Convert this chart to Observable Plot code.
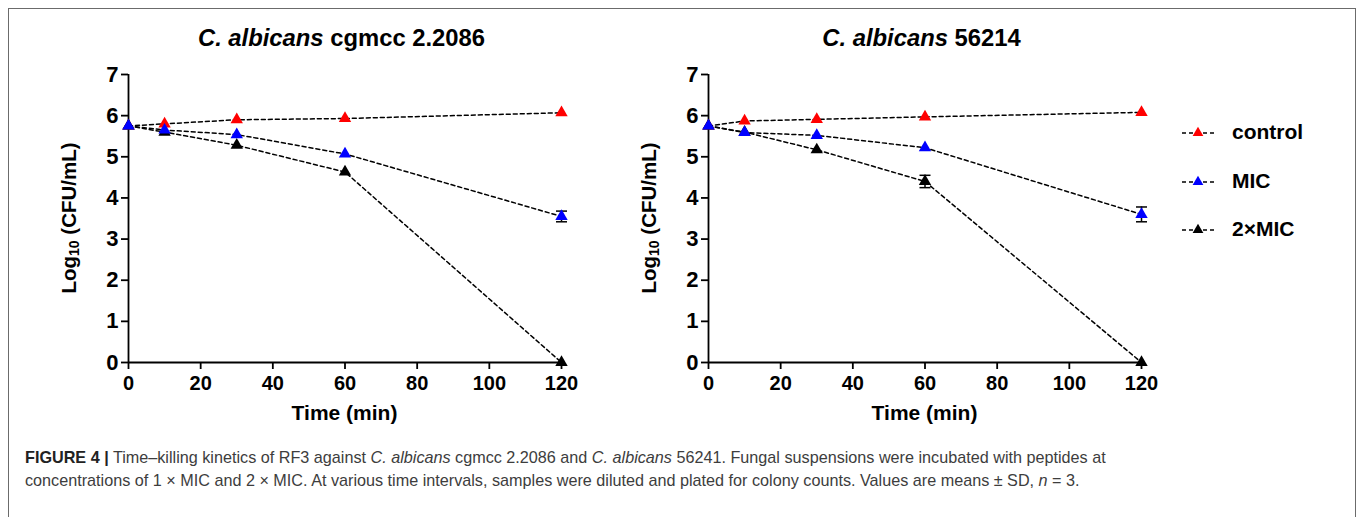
<!DOCTYPE html>
<html>
<head>
<meta charset="utf-8">
<script src="https://cdn.jsdelivr.net/npm/d3@7"></script>
<script src="https://cdn.jsdelivr.net/npm/@observablehq/plot@0.6"></script>
<style>
  html, body { margin: 0; padding: 0; background: #fff; }
  #root { position: relative; width: 1358px; height: 517px; overflow: hidden; font-family: "Liberation Sans", Arial, sans-serif; }
  #frame { position: absolute; left: 8px; top: 8px; width: 1348px; height: 540px; border: 1px solid #6b6b6b; box-sizing: border-box; }
  .panel { position: absolute; top: 0; }
  .title { position: absolute; font-weight: bold; font-size: 23.8px; white-space: nowrap; transform: translate(-50%, -50%); }
  .xlab { position: absolute; font-weight: bold; font-size: 21px; white-space: nowrap; transform: translate(-50%, -50%); }
  .ylab { position: absolute; font-weight: bold; font-size: 20.5px; white-space: nowrap; transform: translate(-50%, -50%) rotate(-90deg); }
  .ylab sub { font-size: 14px; vertical-align: -3px; }
  .legend { position: absolute; left: 1180px; top: 108px; z-index: 5; }
  .legrow { display: flex; align-items: center; height: 48.5px; font-weight: bold; font-size: 21px; }
  .legrow svg { margin-right: 16px; }
  .caption { position: absolute; left: 25px; top: 446px; font-size: 16.2px; color: #3d3d3d; line-height: 23px; white-space: nowrap; font-family: "Liberation Sans", Arial, sans-serif; }
  .caption b { color: #222; }
</style>
</head>
<body>
<div id="root">
  <div id="frame"></div>
</div>
<script>
// ---------------- data ----------------
const times = [0, 10, 30, 60, 120];
const seriesNames = ["control", "MIC", "2×MIC"];
const seriesColors = ["#ff0000", "#0000ff", "#000000"];
const xTicks = [0, 20, 40, 60, 80, 100, 120];
const yTicks = [0, 1, 2, 3, 4, 5, 6, 7];

// Panel A: C. albicans cgmcc 2.2086
const aControl = [5.75, 5.80, 5.90, 5.93, 6.07];
const aMIC     = [5.75, 5.65, 5.54, 5.07, 3.55];
const a2MIC    = [5.75, 5.60, 5.28, 4.63, 0.00];
const aControlSD = [0, 0, 0, 0, 0];
const aMICSD     = [0, 0, 0, 0, 0.13];
const a2MICSD    = [0, 0, 0, 0, 0];

// Panel B: C. albicans 56214
const bControl = [5.75, 5.87, 5.91, 5.97, 6.08];
const bMIC     = [5.75, 5.59, 5.52, 5.22, 3.60];
const b2MIC    = [5.75, 5.60, 5.17, 4.40, 0.00];
const bControlSD = [0, 0, 0, 0, 0];
const bMICSD     = [0, 0, 0, 0, 0.18];
const b2MICSD    = [0, 0, 0, 0.15, 0];

const panelTitles = ["cgmcc 2.2086", "56214"];

// --------------- build ----------------
function rows(ctrl, mic, mic2, sdc, sdm, sdm2) {
  const out = [];
  const vals = [ctrl, mic, mic2], sds = [sdc, sdm, sdm2];
  seriesNames.forEach((s, i) => times.forEach((t, j) => out.push({series: s, t, v: vals[i][j], sd: sds[i][j]})));
  return out;
}
const panels = [
  rows(aControl, aMIC, a2MIC, aControlSD, aMICSD, a2MICSD),
  rows(bControl, bMIC, b2MIC, bControlSD, bMICSD, b2MICSD)
];

const capSymbol = { draw(ctx) { ctx.moveTo(-5.5, 0); ctx.lineTo(5.5, 0); } };
const drawOrder = ["control", "2×MIC", "MIC"];
const font = "'Liberation Sans', Arial, sans-serif";

function makePlot(data) {
  const ordered = drawOrder.flatMap(s => data.filter(d => d.series === s));
  const err = data.filter(d => d.sd > 0);
  return Plot.plot({
    width: 640, height: 420,
    marginLeft: 128, marginRight: 79, marginTop: 74, marginBottom: 58,
    style: { fontFamily: font, fontSize: "21px", fontWeight: "bold", color: "#000", background: "transparent" },
    x: { domain: [xTicks[0], xTicks[xTicks.length - 1]] },
    y: { domain: [yTicks[0], yTicks[yTicks.length - 1]] },
    color: { domain: seriesNames, range: seriesColors },
    marks: [
      Plot.axisY({ ticks: yTicks, tickFormat: d => String(d), tickSize: 7, tickPadding: 3, strokeWidth: 1.8, fontSize: 22, fontWeight: "bold", label: null }),
      Plot.axisX({ ticks: xTicks, tickFormat: d => String(d), tickSize: 7, tickPadding: 6, strokeWidth: 1.8, fontSize: 20, fontWeight: "bold", label: null }),
      Plot.ruleX([xTicks[0]], { y1: yTicks[0], y2: yTicks[yTicks.length - 1], strokeWidth: 1.8 }),
      Plot.ruleY([yTicks[0]], { x1: xTicks[0], x2: xTicks[xTicks.length - 1], strokeWidth: 1.8 }),
      Plot.line(data, { x: "t", y: "v", z: "series", stroke: "#000", strokeWidth: 1.5, strokeDasharray: "4,3" }),
      Plot.ruleX(err, { x: "t", y1: d => d.v - d.sd, y2: d => d.v + d.sd, stroke: "#000", strokeWidth: 1.5 }),
      Plot.dot(err, { x: "t", y: d => d.v + d.sd, symbol: capSymbol, stroke: "#000", strokeWidth: 1.5, r: 5 }),
      Plot.dot(err, { x: "t", y: d => d.v - d.sd, symbol: capSymbol, stroke: "#000", strokeWidth: 1.5, r: 5 }),
      Plot.dot(ordered, { x: "t", y: "v", fill: "series", symbol: "triangle", r: 4.6, stroke: "none" })
    ]
  });
}

const root = document.getElementById("root");
const panelLeft = [0, 580];
panels.forEach((data, i) => {
  const wrap = document.createElement("div");
  wrap.className = "panel";
  wrap.style.left = panelLeft[i] + "px";
  wrap.appendChild(makePlot(data));
  root.appendChild(wrap);

  const cx = panelLeft[i] + 128 + 433 / 2;
  const t = document.createElement("div");
  t.className = "title";
  t.style.left = (cx - 3) + "px"; t.style.top = "38px";
  t.innerHTML = "<i>C. albicans</i> " + panelTitles[i];
  root.appendChild(t);

  const xl = document.createElement("div");
  xl.className = "xlab";
  xl.style.left = cx + "px"; xl.style.top = "413px";
  xl.textContent = "Time (min)";
  root.appendChild(xl);

  const yl = document.createElement("div");
  yl.className = "ylab";
  yl.style.left = (panelLeft[i] + 69) + "px"; yl.style.top = "218px";
  yl.innerHTML = "Log<sub>10</sub> (CFU/mL)";
  root.appendChild(yl);
});

// legend
const leg = document.createElement("div");
leg.className = "legend";
seriesNames.forEach((s, i) => {
  const row = document.createElement("div");
  row.className = "legrow";
  const sym = d3.symbol(d3.symbolTriangle, 50)();
  row.innerHTML = `<svg width="36" height="14" viewBox="0 0 36 14">
     <line x1="2" x2="34" y1="8" y2="8" stroke="#000" stroke-width="1.4" stroke-dasharray="4,3"/>
     <path d="${sym}" transform="translate(18,8)" fill="${seriesColors[i]}"/></svg><span>${s}</span>`;
  leg.appendChild(row);
});
root.appendChild(leg);

// caption
const cap = document.createElement("div");
cap.className = "caption";
cap.innerHTML = "<b>FIGURE 4 |</b> Time–killing kinetics of RF3 against <i>C. albicans</i> cgmcc 2.2086 and <i>C. albicans</i> 56241. Fungal suspensions were incubated with peptides at<br>" +
  "concentrations of 1 × MIC and 2 × MIC. At various time intervals, samples were diluted and plated for colony counts. Values are means ± SD, <i>n</i> = 3.";
root.appendChild(cap);
</script>
</body>
</html>
